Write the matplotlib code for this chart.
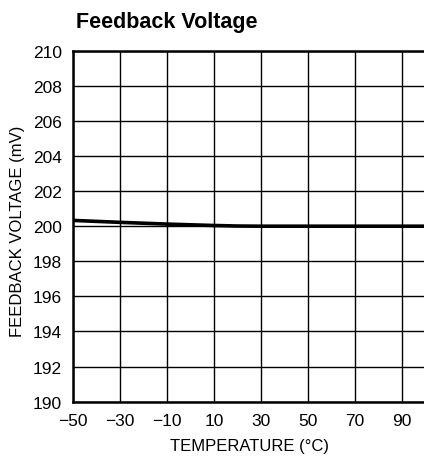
import matplotlib
matplotlib.use("Agg")
import matplotlib.pyplot as plt
import numpy as np

temps = [-50, -30, -10, 10, 20, 30, 50, 70, 90, 110, 130]
vfb = [200.33, 200.22, 200.12, 200.04, 200.01, 200.0, 200.0, 200.0, 200.0, 200.0, 200.0]
xticks = [-50, -30, -10, 10, 30, 50, 70, 90]
yticks = [190, 192, 194, 196, 198, 200, 202, 204, 206, 208, 210]

plt.rcParams['font.family'] = ['Liberation Sans', 'DejaVu Sans']
W, H = 424, 464
fig = plt.figure(figsize=(W/100, H/100), dpi=100)
left, right_px, top, bottom = 73, 73 + 180*2.35, 51.7, 402.7
aw, ah = right_px - left, bottom - top
ax = fig.add_axes([left/W, 1 - bottom/H, aw/W, ah/H])
ax.set_xlim(-50, 130)
ax.set_ylim(190, 210)
ax.set_xticks(xticks)
ax.set_yticks(yticks)
ax.set_xticklabels([f"\u2212{abs(t)}" if t < 0 else str(t) for t in xticks])
ax.grid(True, color='black', linewidth=1.0)
ax.tick_params(axis='y', length=0, labelsize=12.5, pad=8)
ax.tick_params(axis='x', length=0, labelsize=12.5, pad=8)
for s in ax.spines.values():
    s.set_linewidth(1.8)
ax.plot(temps, vfb, color='black', linewidth=2.6, solid_capstyle='butt')
ax.set_xlabel("TEMPERATURE (\u00b0C)", fontsize=12, va='center')
ax.set_ylabel("FEEDBACK VOLTAGE (mV)", fontsize=12, va='center')
ax.xaxis.set_label_coords((249 - left)/aw, (bottom - 447)/ah)
ax.yaxis.set_label_coords((17.5 - left)/aw, (bottom - 231)/ah)
fig.text(76/W, 1 - 28/H, "Feedback Voltage", fontsize=15.5, fontweight='bold', ha='left', va='baseline')
fig.savefig("out.png", dpi=100)
